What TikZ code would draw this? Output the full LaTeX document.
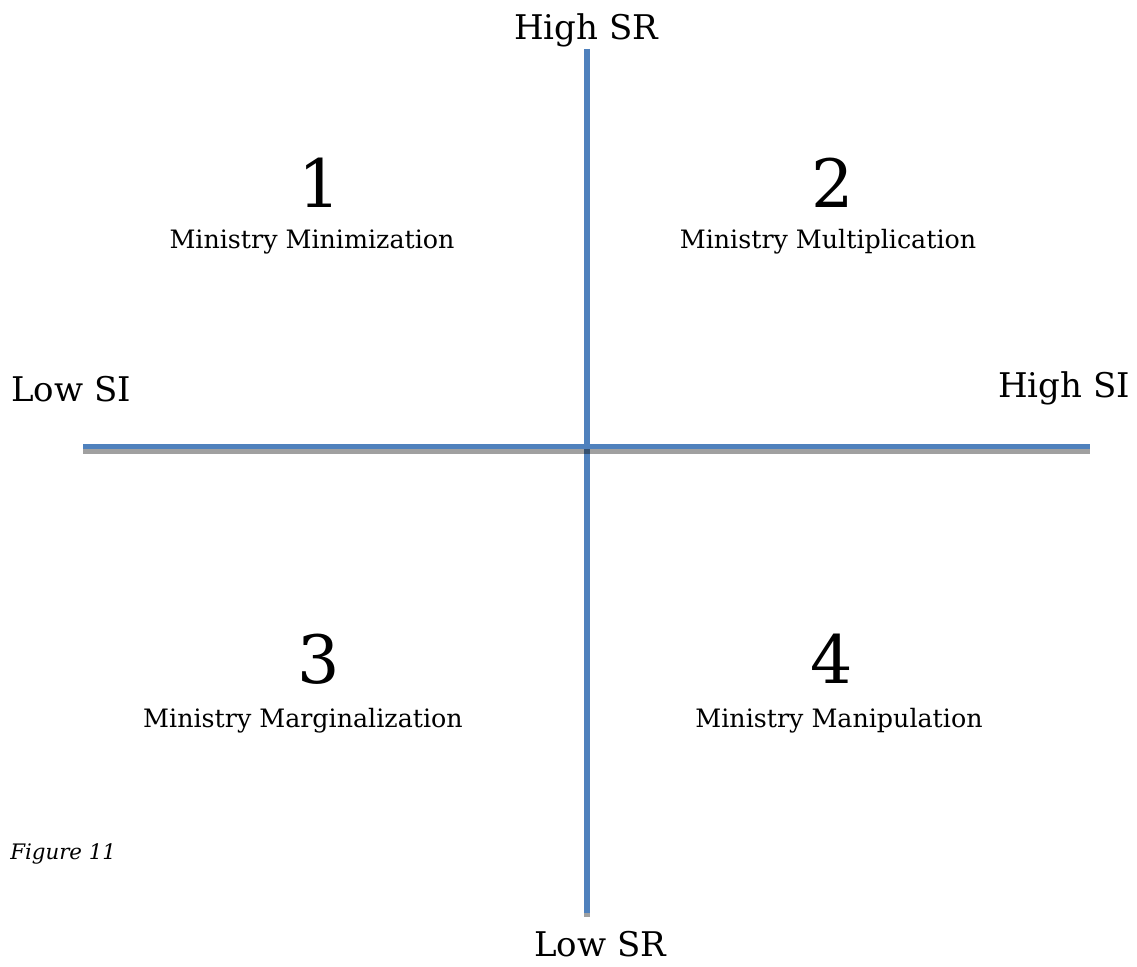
\documentclass[tikz,border=0pt]{standalone}
\usepackage{fontspec}
\setmainfont{DejaVu Serif}
\definecolor{axisblue}{HTML}{4F81BD}
\definecolor{shadowgrey}{HTML}{A0A0A0}
\definecolor{crossdark}{HTML}{34506F}
\begin{document}
\begin{tikzpicture}[x=0.75pt,y=-0.75pt,
  axisline/.style={draw=axisblue,line width=4pt},
  shadowline/.style={draw=shadowgrey,line width=4pt},
  endlabel/.style={font=\fontsize{25.5}{30}\selectfont,inner sep=0pt},
  numlabel/.style={font=\fontsize{50}{56}\selectfont,inner sep=0pt},
  namelabel/.style={font=\fontsize{19}{23}\selectfont,inner sep=0pt},
  figlabel/.style={font=\fontsize{16}{19}\selectfont\itshape,inner sep=0pt,anchor=west}]
\useasboundingbox (0,0) rectangle (1137,966);
\coordinate (T) at (587,49);
\coordinate (B) at (587,913);
\coordinate (L) at (83,446.5);
\coordinate (R) at (1090,446.5);
% shadows
\draw[shadowline] ([yshift=-3.5pt]L) -- ([yshift=-3.5pt]R);
\draw[shadowline] ([yshift=-3pt]T) -- ([yshift=-3pt]B);
% axes
\draw[axisline] (L) -- (R);
\draw[axisline] (T) -- (B);
\fill[crossdark] (584.3,449.3) rectangle (589.7,454);
% end labels
\node[endlabel] (hsr) at (586,30) {High SR};
\node[endlabel] (lsr) at (600,944) {Low SR};
\node[endlabel] (lsi) at (71,389) {Low SI};
\node[endlabel] (hsi) at (1064,388) {High SI};
% quadrants
\node[numlabel] (n1) at (320,183) {1};
\node[namelabel] (q1) at (312,242) {Ministry Minimization};
\node[numlabel] (n2) at (833,183) {2};
\node[namelabel] (q2) at (828,242) {Ministry Multiplication};
\node[numlabel] (n3) at (319,659) {3};
\node[namelabel] (q3) at (303,721) {Ministry Marginalization};
\node[numlabel] (n4) at (832,659) {4};
\node[namelabel] (q4) at (839,721) {Ministry Manipulation};
\node[figlabel] (fig) at (10,854) {Figure 11};
\end{tikzpicture}
\end{document}
